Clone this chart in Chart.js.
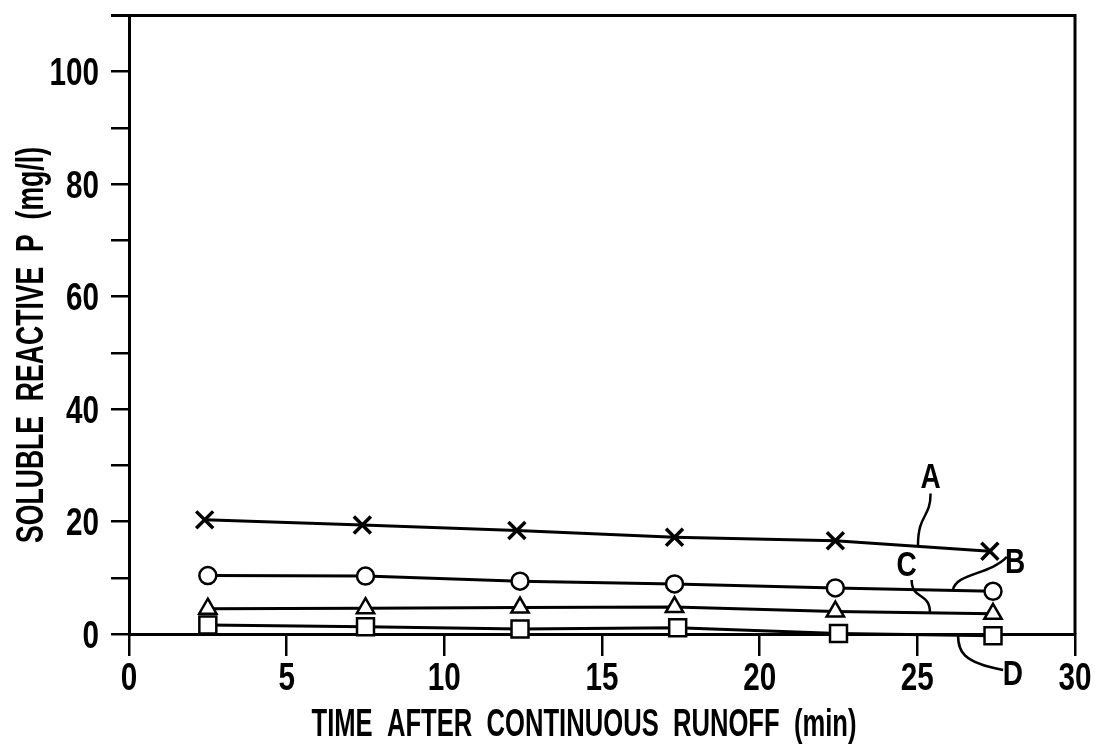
<!DOCTYPE html>
<html>
<head>
<meta charset="utf-8">
<script src="https://cdn.jsdelivr.net/npm/chart.js@4/dist/chart.umd.min.js"></script>
<style>
  body { margin: 0; background: #fff; }
  canvas { display: block; }
</style>
</head>
<body>
<canvas id="myChart" width="1098" height="755"></canvas>
<script>
// sampling times (min)
var timesA = [2.4, 7.4, 12.3, 17.3, 22.4, 27.3];
var timesB = [2.5, 7.5, 12.4, 17.3, 22.4, 27.4];
var timesC = [2.5, 7.5, 12.4, 17.3, 22.4, 27.4];
var timesD = [2.5, 7.5, 12.4, 17.4, 22.5, 27.4];

// soluble reactive P (mg/l)
var seriesA = [20.3, 19.4, 18.4, 17.2, 16.6, 14.7];
var seriesB = [10.4, 10.3, 9.4, 8.9, 8.2, 7.6];
var seriesC = [4.5, 4.6, 4.7, 4.8, 4.0, 3.6];
var seriesD = [1.6, 1.3, 0.9, 1.1, 0.1, -0.3];

var xTicks = [0, 5, 10, 15, 20, 25, 30];
var yLabelled = [0, 20, 40, 60, 80, 100];

var xTitle = 'TIME  AFTER  CONTINUOUS  RUNOFF  (min)';
var yTitle = 'SOLUBLE  REACTIVE  P  (mg/l)';

// curve labels: text position and leader (start, ctrl1, ctrl2, end) in data units
var labelText = ['A', 'B', 'C', 'D'];
var labelPos = [[25.42, 28.2], [28.1, 13.1], [24.66, 12.6], [28.03, -6.9]];
var leaders = [
    [[25.42, 25.0], [25.42, 20.5], [25.02, 21.5], [25.02, 15.6]],
    [[27.84, 13.7], [27.3, 10.5], [26.2, 10.8], [26.13, 7.8]],
    [[24.82, 9.6], [24.82, 6.0], [25.4, 7.5], [25.4, 3.8]],
    [[27.72, -6.4], [26.4, -5.0], [26.3, -3.0], [26.29, -0.2]]
];

var FONT = '"Liberation Sans", Arial, sans-serif';

function pts(xs, ys) {
    return xs.map(function (x, i) { return { x: x, y: ys[i] }; });
}

function series(xs, ys, style, r, bw, ord) {
    return {
        data: pts(xs, ys),
        borderColor: '#000',
        borderWidth: 3,
        pointStyle: style,
        pointRadius: r,
        pointBorderWidth: bw,
        pointBorderColor: '#000',
        pointBackgroundColor: '#fff',
        tension: 0,
        clip: false,
        order: ord
    };
}

// narrow text: squeeze horizontally (no condensed face installed)
function narrowText(ctx, text, x, y, sx, align) {
    var w = ctx.measureText(text).width * sx;
    var left = align === 'center' ? x - w / 2 : (align === 'right' ? x - w : x);
    ctx.save();
    ctx.translate(left, y);
    ctx.scale(sx, 1);
    ctx.textAlign = 'left';
    ctx.fillText(text, 0, 0);
    ctx.restore();
}

function fitText(ctx, text, x, y, width) {
    var sx = width / ctx.measureText(text).width;
    narrowText(ctx, text, x, y, sx, 'center');
}

var decor = {
    id: 'decor',
    afterDatasetsDraw: function (chart) {
        var ctx = chart.ctx;
        var a = chart.chartArea;
        var xs = chart.scales.x, ys = chart.scales.y;
        ctx.save();
        ctx.strokeStyle = '#000';
        ctx.lineWidth = 3;
        ctx.beginPath();
        ctx.moveTo(a.left - 18, a.top);
        ctx.lineTo(a.right, a.top);
        ctx.lineTo(a.right, a.bottom);
        ctx.stroke();

        // leaders
        ctx.lineWidth = 2.5;
        leaders.forEach(function (l) {
            var p = l.map(function (q) { return [xs.getPixelForValue(q[0]), ys.getPixelForValue(q[1])]; });
            ctx.beginPath();
            ctx.moveTo(p[0][0], p[0][1]);
            ctx.bezierCurveTo(p[1][0], p[1][1], p[2][0], p[2][1], p[3][0], p[3][1]);
            ctx.stroke();
        });

        ctx.fillStyle = '#000';
        ctx.textBaseline = 'alphabetic';

        // tick labels
        ctx.font = 'bold 38px ' + FONT;
        xs.ticks.forEach(function (t) {
            narrowText(ctx, String(t.value), xs.getPixelForValue(t.value), a.bottom + 56, 0.78, 'center');
        });
        ys.ticks.forEach(function (t) {
            if (yLabelled.indexOf(t.value) < 0) return;
            narrowText(ctx, String(t.value), a.left - 30, ys.getPixelForValue(t.value) + 13.5, 0.78, 'right');
        });

        // curve labels
        ctx.font = 'bold 35px ' + FONT;
        labelText.forEach(function (t, i) {
            narrowText(ctx, t, xs.getPixelForValue(labelPos[i][0]), ys.getPixelForValue(labelPos[i][1]) + 12.5, 0.8, 'center');
        });

        // axis titles
        ctx.font = 'bold 38px ' + FONT;
        fitText(ctx, xTitle, 584, 736, 545);
        ctx.translate(43, 345);
        ctx.rotate(-Math.PI / 2);
        fitText(ctx, yTitle, 0, 0, 396);
        ctx.restore();
    }
};

var chart1 = document.getElementById('myChart');
var myChart = new Chart(chart1, {
    type: 'line',
    data: {
        datasets: [
            series(timesA, seriesA, 'crossRot', 12, 3.5, 3),
            series(timesB, seriesB, 'circle', 8.5, 2.5, 2),
            series(timesC, seriesC, 'triangle', 10, 2.5, 1),
            series(timesD, seriesD, 'rect', 12, 2.5, 0)
        ]
    },
    options: {
        responsive: false,
        animation: false,
        devicePixelRatio: 1,
        layout: { padding: { top: 13, right: 23, left: 0, bottom: 0 } },
        plugins: { legend: { display: false }, tooltip: { enabled: false } },
        scales: {
            x: {
                type: 'linear',
                min: 0,
                max: 30,
                afterBuildTicks: function (s) { s.ticks = xTicks.map(function (v) { return { value: v }; }); },
                afterFit: function (s) { s.height = 121; },
                border: { display: true, color: '#000', width: 3 },
                grid: { drawOnChartArea: false, drawTicks: true, tickLength: 22, color: '#000', lineWidth: 2.5 },
                ticks: { display: false }
            },
            y: {
                min: 0,
                max: 110,
                afterBuildTicks: function (s) {
                    var t = [];
                    for (var v = 0; v <= 110; v += 10) t.push({ value: v });
                    s.ticks = t;
                },
                afterFit: function (s) { s.width = 129; },
                border: { display: true, color: '#000', width: 3 },
                grid: { drawOnChartArea: false, drawTicks: true, tickLength: 18, color: '#000', lineWidth: 2.5 },
                ticks: { display: false }
            }
        }
    },
    plugins: [decor]
});
</script>
</body>
</html>
